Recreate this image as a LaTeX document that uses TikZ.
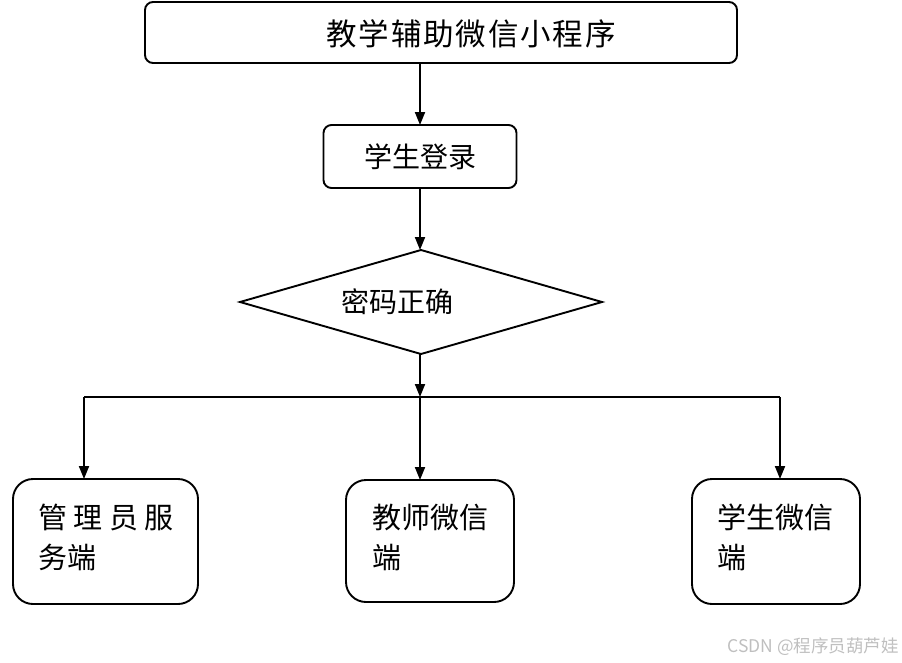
\documentclass[tikz,border=0pt]{standalone}
\usepackage{fontspec}
\setmainfont{Noto Sans CJK SC}
\usetikzlibrary{shapes.geometric,arrows.meta}
\begin{document}
\begin{tikzpicture}[x=1pt,y=-1pt,
  box/.style={draw,line width=1.9pt,rounded corners=8pt,inner sep=0pt,outer sep=0pt},
  bbox/.style={draw,line width=1.9pt,rounded corners=20pt,inner sep=0pt,outer sep=0pt},
  arr/.style={line width=1.9pt,-{Triangle[length=13pt,width=10pt]}},
  ln/.style={line width=1.9pt},
  lbl/.style={inner sep=0pt,align=left,font=\fontsize{29}{40}\selectfont}]
\useasboundingbox (0,0) rectangle (902,662);
% top
\node[box,minimum width=592pt,minimum height=61pt] (top) at (441,32.5) {};
\node[inner sep=0pt,font=\fontsize{30.5}{36}\selectfont\addfontfeature{LetterSpace=6}] (ttl) at (471,34) {教学辅助微信小程序};
% login
\node[box,minimum width=193pt,minimum height=63pt,font=\fontsize{28}{32}\selectfont] (login) at (420,156.5) {学生登录};
% diamond
\node[draw,diamond,line width=1.9pt,minimum width=362pt,minimum height=104pt,inner sep=0pt,outer sep=0pt] (dia) at (421,302) {};
\node[inner sep=0pt,font=\fontsize{28}{32}\selectfont] (dtxt) at (397,302) {密码正确};
% bottom boxes
\node[bbox,minimum width=185pt,minimum height=125pt] (bl) at (105.5,541.5) {};
\node[bbox,minimum width=168pt,minimum height=122pt] (bm) at (430,541) {};
\node[bbox,minimum width=168pt,minimum height=125pt] (br) at (776,541.5) {};
\node[lbl,anchor=west] (tl) at (38,537) {管 理 员 服\\务端};
\node[lbl,anchor=west] (tm) at (372,537) {教师微信\\端};
\node[lbl,anchor=west] (tr) at (717,537) {学生微信\\端};
% connectors
\coordinate (j) at (420,397);
\coordinate (jl) at (84,397);
\coordinate (jr) at (780,397);
\draw[arr] (top.south -| login.north) -- (login.north);
\draw[arr] (login.south) -- (login.south |- dia.north);
\draw[arr] (dia.south -| j) -- (j);
\draw[ln] (jl) -- (jr);
\draw[arr] (jl) -- (jl |- bl.north);
\draw[arr] (j) -- (j |- bm.north);
\draw[arr] (jr) -- (jr |- br.north);
% watermark
\node[anchor=east,text=gray!50,inner sep=0pt,font=\fontsize{17.5}{20}\selectfont] (wm) at (899,647) {CSDN @程序员葫芦娃};
\end{tikzpicture}
\end{document}
